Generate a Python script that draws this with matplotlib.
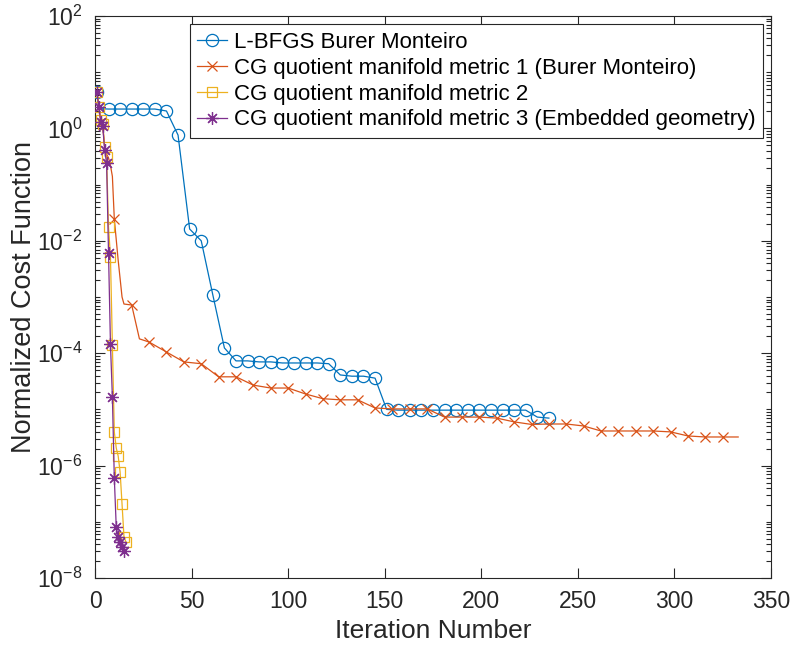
import matplotlib
matplotlib.use("Agg")
import matplotlib.pyplot as plt
from matplotlib.lines import Line2D
from matplotlib.ticker import LogLocator, NullFormatter, FixedLocator

plt.rcParams['font.family'] = ['Liberation Sans', 'DejaVu Sans']
plt.rcParams['mathtext.default'] = 'regular'

# ---------------- data ----------------
labels = [
    "L-BFGS Burer Monteiro",
    "CG quotient manifold metric 1 (Burer Monteiro)",
    "CG quotient manifold metric 2",
    "CG quotient manifold metric 3 (Embedded geometry)",
]

lbfgs_iter = [1, 2, 7, 13, 19, 25, 31, 37, 43, 49, 55, 61, 67, 73, 79, 85, 91, 97,
              103, 109, 115, 121, 127, 133, 139, 145, 151, 157, 163, 169, 175, 181,
              187, 193, 199, 205, 211, 217, 223, 229, 235]
lbfgs_val = [4.45, 2.25, 2.21, 2.21, 2.21, 2.21, 2.21, 2.04, 0.76, 0.0162, 0.010,
             1.09e-3, 1.24e-4, 7.3e-5, 7.3e-5, 7.0e-5, 7.0e-5, 6.7e-5, 6.7e-5, 6.7e-5,
             6.7e-5, 6.5e-5, 4.1e-5, 3.9e-5, 3.9e-5, 3.6e-5, 1.0e-5, 9.7e-6, 9.7e-6,
             9.7e-6, 9.7e-6, 9.7e-6, 9.7e-6, 9.7e-6, 9.7e-6, 9.7e-6, 9.7e-6, 9.7e-6,
             9.7e-6, 7.3e-6, 7.0e-6]
lbfgs_marker_iter = [1, 7, 13, 19, 25, 31, 37, 43, 49, 55, 61, 67, 73, 79, 85, 91, 97,
                     103, 109, 115, 121, 127, 133, 139, 145, 151, 157, 163, 169, 175,
                     181, 187, 193, 199, 205, 211, 217, 223, 229, 235]

cg1_iter = [1, 2, 3, 4, 5, 6, 7, 8, 9, 10, 12, 14, 15, 19, 23, 28, 37, 46, 55, 64, 73,
            82, 91, 100, 109, 118, 127, 136, 145, 154, 163, 172, 181, 190, 199, 208,
            217, 226, 235, 244, 253, 262, 271, 280, 289, 298, 307, 316, 325, 333]
cg1_val = [4.45, 2.4, 1.3, 1.15, 0.45, 0.35, 0.3, 0.22, 0.14, 0.0244, 4.5e-3, 1.0e-3,
           7.5e-4, 7.2e-4, 1.8e-4, 1.58e-4, 1.05e-4, 7.0e-5, 6.5e-5, 3.8e-5, 3.8e-5,
           2.7e-5, 2.4e-5, 2.4e-5, 1.88e-5, 1.55e-5, 1.48e-5, 1.48e-5, 1.06e-5,
           1.02e-5, 1.02e-5, 1.02e-5, 7.3e-6, 7.3e-6, 7.3e-6, 7.0e-6, 6.0e-6, 5.4e-6,
           5.5e-6, 5.5e-6, 5.07e-6, 4.13e-6, 4.13e-6, 4.13e-6, 4.13e-6, 3.98e-6,
           3.37e-6, 3.23e-6, 3.23e-6, 3.23e-6]
cg1_marker_iter = [1, 10, 19, 28, 37, 46, 55, 64, 73, 82, 91, 100, 109, 118, 127, 136,
                   145, 154, 163, 172, 181, 190, 199, 208, 217, 226, 235, 244, 253,
                   262, 271, 280, 289, 298, 307, 316, 325]

cg2_iter = [1, 2, 3, 4, 5, 6, 7, 8, 9, 10, 11, 12, 13, 14, 15, 16]
cg2_val = [4.45, 2.4, 1.4, 1.2, 0.47, 0.31, 0.0177, 5.2e-3, 1.4e-4, 3.96e-6, 2.06e-6,
           1.48e-6, 7.7e-7, 2.07e-7, 5.4e-8, 4.4e-8]

cg3_iter = [1, 2, 3, 4, 5, 6, 7, 8, 9, 10, 11, 12, 13, 14, 15]
cg3_val = [4.45, 2.4, 1.3, 1.1, 0.41, 0.24, 6.1e-3, 1.46e-4, 1.66e-5, 6.0e-7, 8.1e-8,
           5.4e-8, 4.4e-8, 3.5e-8, 3.0e-8]

xticks = [0, 50, 100, 150, 200, 250, 300, 350]
yticks = [1e-8, 1e-6, 1e-4, 1e-2, 1e0, 1e2]

# ---------------- styling ----------------
colors = ['#0072BD', '#D95319', '#EDB120', '#7E2F8E']
ast = (8, 2, 0)
W, H = 794, 646
fig = plt.figure(figsize=(W / 100, H / 100), dpi=100)
ax = fig.add_axes([95 / W, (H - 578) / H, (771 - 95) / W, (578 - 16) / H])

lw = 0.9


def marker_idx(iters, mk):
    return [i for i, v in enumerate(iters) if v in mk]


ax.plot(lbfgs_iter, lbfgs_val, color=colors[0], lw=lw, marker='o', mfc='none',
        ms=8.8, mew=lw, markevery=marker_idx(lbfgs_iter, lbfgs_marker_iter), zorder=3)
ax.plot(cg1_iter, cg1_val, color=colors[1], lw=lw, marker='x', ms=6.5, mew=lw,
        markevery=marker_idx(cg1_iter, cg1_marker_iter), zorder=4)
ax.plot(cg2_iter, cg2_val, color=colors[2], lw=lw, marker='s', mfc='none', ms=7,
        mew=lw, zorder=5)
ax.plot(cg3_iter, cg3_val, color=colors[3], lw=lw, marker=ast, ms=9, mew=lw, zorder=6)

ax.set_yscale('log')
ax.set_xlim(0, 350)
ax.set_ylim(1e-8, 1e2)
ax.xaxis.set_major_locator(FixedLocator(xticks))
ax.yaxis.set_major_locator(FixedLocator(yticks))
ax.yaxis.set_minor_locator(LogLocator(base=10, subs=[1, 2, 3, 4, 5, 6, 7, 8, 9], numticks=100))
ax.yaxis.set_minor_formatter(NullFormatter())

axcol = '#262626'
for s in ax.spines.values():
    s.set_color(axcol)
    s.set_linewidth(0.8)
ax.tick_params(which='both', direction='in', top=True, right=True, colors=axcol,
               labelcolor=axcol, width=0.8)
ax.tick_params(which='major', length=7, labelsize=16.5)
ax.tick_params(axis='x', which='major', pad=9)
ax.tick_params(axis='y', which='major', pad=9)
ax.tick_params(which='minor', length=3.5)

ax.set_xlabel('Iteration Number', fontsize=19, color=axcol, labelpad=4)
ax.set_ylabel('Normalized Cost Function', fontsize=19.5, color=axcol, labelpad=0)

handles = [
    Line2D([], [], color=colors[0], lw=lw, marker='o', mfc='none', ms=8.8, mew=lw),
    Line2D([], [], color=colors[1], lw=lw, marker='x', ms=6.5, mew=lw),
    Line2D([], [], color=colors[2], lw=lw, marker='s', mfc='none', ms=7, mew=lw),
    Line2D([], [], color=colors[3], lw=lw, marker=ast, ms=9, mew=lw),
]
leg = ax.legend(handles, labels, loc='upper right',
                bbox_to_anchor=((763 - 95) / 676, (578 - 24) / 562),
                borderaxespad=0, fontsize=16, handlelength=1.35, handletextpad=0.28,
                labelspacing=0.22, borderpad=0.35, fancybox=False, framealpha=1,
                edgecolor=axcol)
leg.get_frame().set_linewidth(0.8)
for t in leg.get_texts():
    t.set_color('black')

fig.savefig('out.png', dpi=100)
